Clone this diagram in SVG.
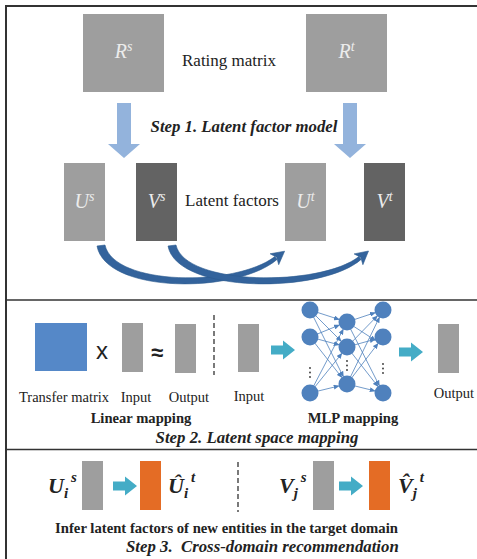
<svg xmlns="http://www.w3.org/2000/svg" width="477" height="559" viewBox="0 0 477 559">
<style>
text{font-family:"Liberation Serif","Times New Roman",serif;fill:#222}
.t17{font-size:17px}
.t14{font-size:14.5px}
.b14{font-size:14.6px;font-weight:bold}
.step{font-size:16.8px;font-weight:bold;font-style:italic}
.math{font-size:20px;font-style:italic;fill:#ececec}
.mb{font-size:22px;font-style:italic;font-weight:bold}
.grey{fill:#9e9e9e}
.dark{fill:#636363}
.orange{fill:#e46c25}
.frame{stroke:#333;fill:none}
.dash{stroke:#333;stroke-width:1.3;stroke-dasharray:5 3}
.bigarrow{fill:#93b3dc}
.cyan{fill:#44acc6}
.curve{fill:#33639c;stroke:#2c5a8f;stroke-width:0.6}
.nn{stroke:#4f81bd;stroke-width:0.8;fill:none}
.node{fill:#4f81bd}
.dot{fill:#333}
</style>
<defs>
<marker id="nHead" markerUnits="userSpaceOnUse" markerWidth="6" markerHeight="5" refX="5" refY="2.5" viewBox="0 0 6 5" orient="auto">
<path d="M0,0 L6,2.5 L0,5 Z" fill="#4f81bd"/>
</marker>
<path id="cyanArrow" d="M0,-4.5 H12 V-9.5 L24,0 L12,9.5 V4.5 H0 Z"/>
</defs>

<g id="frame">
<line class="frame" x1="5" y1="6" x2="477" y2="6" stroke-width="2"/>
<line class="frame" x1="6" y1="5" x2="6" y2="559" stroke-width="2"/>
<line class="frame" x1="5" y1="300" x2="477" y2="300" stroke-width="1.5"/>
<line class="frame" x1="5" y1="449.5" x2="477" y2="449.5" stroke-width="1.5"/>
</g>

<!-- Step 1 -->
<g id="Rs"><rect class="grey" x="83" y="14" width="81" height="78"/>
<text class="math" x="123.5" y="58" text-anchor="middle">R<tspan font-size="14" dy="-7">s</tspan></text></g>
<g id="Rt"><rect class="grey" x="306" y="14" width="81" height="78"/>
<text class="math" x="346.5" y="58" text-anchor="middle">R<tspan font-size="14" dy="-7">t</tspan></text></g>
<text class="t17" x="229" y="66" text-anchor="middle">Rating matrix</text>

<g id="arrowLeft"><path class="bigarrow" d="M117,103 H131 V144 H140 L124,158 L108,144 H117 Z"/></g>
<g id="arrowRight"><path class="bigarrow" d="M343,103 H357 V144 H366 L350,158 L334,144 H343 Z"/></g>
<text class="step" x="244" y="132" text-anchor="middle">Step 1. Latent factor model</text>

<g id="Us"><rect class="grey" x="64" y="163" width="41" height="78"/>
<text class="math" x="84.5" y="208" text-anchor="middle">U<tspan font-size="14" dy="-7">s</tspan></text></g>
<g id="Vs"><rect class="dark" x="136" y="163" width="41" height="78"/>
<text class="math" x="156.5" y="208" text-anchor="middle">V<tspan font-size="14" dy="-7">s</tspan></text></g>
<text class="t17" x="232" y="206" text-anchor="middle">Latent factors</text>
<g id="Ut"><rect class="grey" x="285" y="163" width="41" height="78"/>
<text class="math" x="305.5" y="208" text-anchor="middle">U<tspan font-size="14" dy="-7">t</tspan></text></g>
<g id="Vt"><rect class="dark" x="364" y="163" width="41" height="78"/>
<text class="math" x="384.5" y="208" text-anchor="middle">V<tspan font-size="14" dy="-7">t</tspan></text></g>

<g id="connectors">
<path class="curve" d="M97,246 C106,294 237,294 277.1,259.4 L274.9,256.6 C235,287 114,286 105,245 Z"/>
<path class="curve" d="M284.6,251.2 L278.7,264.7 L276.7,257.3 L270.1,253.8 Z"/>
<path class="curve" d="M168,246 C177,294 322,294 361.1,259.4 L358.9,256.6 C320,287 185,286 176,245 Z"/>
<path class="curve" d="M368.5,251 L362.9,264.7 L360.8,257.4 L354.1,253.9 Z"/>
</g>

<!-- Step 2 -->
<g id="linear">
<rect x="35" y="323" width="52" height="48" fill="#5588c8"/>
<text x="102" y="359" text-anchor="middle" style="font-family:'Liberation Sans',Arial,sans-serif;font-size:24px">x</text>
<rect class="grey" x="122" y="323" width="21" height="49"/>
<text x="157" y="360" text-anchor="middle" style="font-family:'Liberation Sans',Arial,sans-serif;font-size:22px;font-weight:bold">≈</text>
<rect class="grey" x="175" y="324" width="21" height="49"/>
<text class="t14" x="64" y="402" text-anchor="middle">Transfer matrix</text>
<text class="t14" x="136" y="402" text-anchor="middle">Input</text>
<text class="t14" x="189" y="402" text-anchor="middle">Output</text>
<text class="b14" x="141" y="423" text-anchor="middle">Linear mapping</text>
</g>
<line class="dash" x1="214" y1="315" x2="214" y2="375"/>

<g id="mlp">
<rect class="grey" x="238" y="324" width="21" height="48"/>
<text class="t14" x="249" y="401" text-anchor="middle">Input</text>
<use href="#cyanArrow" class="cyan" x="271" y="350"/>
<g id="mlpEdges">
<line class="nn" x1="310" y1="310" x2="338.9" y2="319.4" marker-end="url(#nHead)"/>
<line class="nn" x1="310" y1="310" x2="341" y2="341" marker-end="url(#nHead)"/>
<line class="nn" x1="310" y1="310" x2="343.2" y2="376.4" marker-end="url(#nHead)"/>
<line class="nn" x1="310" y1="337" x2="339.1" y2="325.2" marker-end="url(#nHead)"/>
<line class="nn" x1="310" y1="337" x2="338.8" y2="344.8" marker-end="url(#nHead)"/>
<line class="nn" x1="310" y1="337" x2="341.7" y2="377.3" marker-end="url(#nHead)"/>
<line class="nn" x1="310" y1="393" x2="343.1" y2="329.5" marker-end="url(#nHead)"/>
<line class="nn" x1="310" y1="393" x2="341.7" y2="353.6" marker-end="url(#nHead)"/>
<line class="nn" x1="310" y1="393" x2="338.7" y2="386" marker-end="url(#nHead)"/>
<line class="nn" x1="347" y1="322" x2="374.9" y2="312.7" marker-end="url(#nHead)"/>
<line class="nn" x1="347" y1="322" x2="375.2" y2="340.3" marker-end="url(#nHead)"/>
<line class="nn" x1="347" y1="322" x2="379.2" y2="385.4" marker-end="url(#nHead)"/>
<line class="nn" x1="347" y1="347" x2="377.1" y2="316.1" marker-end="url(#nHead)"/>
<line class="nn" x1="347" y1="347" x2="374.8" y2="339.3" marker-end="url(#nHead)"/>
<line class="nn" x1="347" y1="347" x2="377.8" y2="386.3" marker-end="url(#nHead)"/>
<line class="nn" x1="347" y1="384" x2="379.3" y2="317.6" marker-end="url(#nHead)"/>
<line class="nn" x1="347" y1="384" x2="377.8" y2="343.7" marker-end="url(#nHead)"/>
<line class="nn" x1="347" y1="384" x2="374.8" y2="390.9" marker-end="url(#nHead)"/>
</g>
<g id="mlpNodes">
<circle class="node" cx="310" cy="310" r="8.5"/>
<circle class="node" cx="310" cy="337" r="8.5"/>
<circle class="node" cx="310" cy="393" r="8.5"/>
<circle class="node" cx="347" cy="322" r="8.5"/>
<circle class="node" cx="347" cy="347" r="8.5"/>
<circle class="node" cx="347" cy="384" r="8.5"/>
<circle class="node" cx="383" cy="310" r="8.5"/>
<circle class="node" cx="383" cy="337" r="8.5"/>
<circle class="node" cx="383" cy="393" r="8.5"/>
<circle class="dot" cx="310" cy="368" r="0.9"/><circle class="dot" cx="310" cy="372.5" r="0.9"/><circle class="dot" cx="310" cy="377" r="0.9"/>
<circle class="dot" cx="347" cy="361" r="0.9"/><circle class="dot" cx="347" cy="365.5" r="0.9"/><circle class="dot" cx="347" cy="370" r="0.9"/>
<circle class="dot" cx="383" cy="364" r="0.9"/><circle class="dot" cx="383" cy="368.5" r="0.9"/><circle class="dot" cx="383" cy="373" r="0.9"/>
</g>
<use href="#cyanArrow" class="cyan" x="399" y="352"/>
<rect class="grey" x="438" y="324" width="21" height="49"/>
<text class="t14" x="454" y="398" text-anchor="middle">Output</text>
<text class="b14" x="353" y="423" text-anchor="middle">MLP mapping</text>
</g>
<text class="step" x="257" y="443" text-anchor="middle">Step 2. Latent space mapping</text>

<!-- Step 3 -->
<g id="userInfer">
<text class="mb" x="48" y="493">U<tspan font-size="15" dy="5">i</tspan><tspan font-size="15" dx="3" dy="-16">s</tspan></text>
<rect class="grey" x="82" y="461" width="21" height="49"/>
<use href="#cyanArrow" class="cyan" x="113" y="486"/>
<rect class="orange" x="140" y="461" width="21" height="49"/>
<text class="mb" x="168" y="493">Û<tspan font-size="15" dy="5">i</tspan><tspan font-size="15" dx="3" dy="-16">t</tspan></text>
</g>
<line class="dash" x1="238" y1="462" x2="238" y2="512"/>
<g id="itemInfer">
<text class="mb" x="279" y="493">V<tspan font-size="15" dy="5">j</tspan><tspan font-size="15" dx="3" dy="-16">s</tspan></text>
<rect class="grey" x="313" y="461" width="21" height="49"/>
<use href="#cyanArrow" class="cyan" x="339" y="486"/>
<rect class="orange" x="369" y="461" width="21" height="49"/>
<text class="mb" x="398" y="493">V̂<tspan font-size="15" dy="5">j</tspan><tspan font-size="15" dx="3" dy="-16">t</tspan></text>
</g>
<text class="b14" x="226.5" y="533" text-anchor="middle" style="font-size:14.7px">Infer latent factors of new entities in the target domain</text>
<text class="step" x="126" y="552" style="white-space:pre">Step 3.  Cross-domain recommendation</text>
</svg>
